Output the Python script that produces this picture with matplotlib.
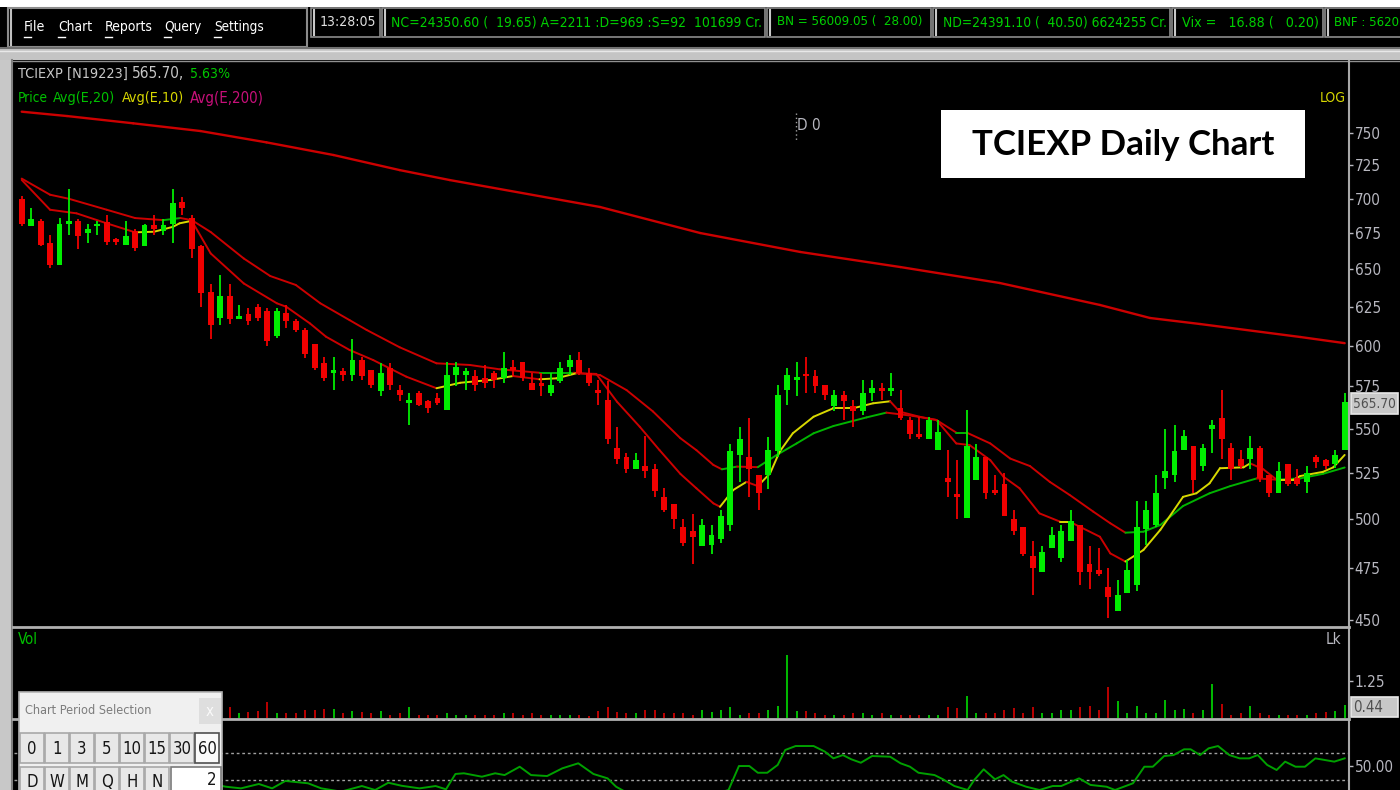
import matplotlib
matplotlib.use('Agg')
import matplotlib.pyplot as plt
from matplotlib import font_manager
from matplotlib.collections import LineCollection
from matplotlib.patches import Rectangle
from matplotlib.ticker import NullLocator
import numpy as np

# ---------------- data ----------------
opens = [700, 680, 684, 668, 653, 682, 684, 675, 680, 683, 671, 667, 677, 666, 681, 677, 682, 698, 686, 666,
         635, 618, 632, 617, 620, 625, 622, 606, 621, 616, 610, 601, 589, 583, 584, 582, 591, 585, 572, 586,
         573, 565, 571, 566, 568, 561, 582, 582, 581, 580, 583, 580, 587, 590, 577, 577, 571, 578, 587, 591,
         583, 572, 567, 539, 534, 527, 529, 527, 512, 508, 496, 494, 486, 487, 490, 497, 535, 534, 524, 524,
         537, 573, 579, 582, 581, 576, 563, 570, 563, 560, 571, 573, 572, 562, 555, 547, 544, 538, 522, 513,
         501, 521, 534, 515, 519, 500, 496, 481, 473, 485, 480, 489, 497, 477, 474, 466, 454, 463, 467, 495,
         497, 522, 524, 538, 540, 529, 550, 556, 539, 533, 533, 539, 524, 514, 530, 522, 520, 534, 532, 530,
         538]
highs = [702, 693, 685, 674, 686, 707, 685, 682, 684, 688, 672, 684, 678, 682, 688, 685, 707, 701, 688, 667,
         640, 646, 640, 626, 624, 627, 624, 624, 626, 617, 611, 601, 593, 593, 586, 604, 593, 585, 589, 589,
         576, 571, 572, 567, 571, 590, 590, 586, 585, 588, 584, 596, 591, 590, 583, 583, 583, 590, 594, 596,
         586, 579, 578, 551, 536, 536, 546, 530, 517, 508, 500, 503, 500, 497, 505, 541, 551, 556, 524, 545,
         576, 586, 590, 593, 585, 576, 573, 572, 567, 579, 579, 577, 583, 573, 557, 557, 557, 555, 538, 532,
         561, 541, 534, 524, 525, 505, 496, 489, 486, 496, 497, 505, 497, 486, 485, 475, 469, 479, 510, 510,
         524, 550, 552, 549, 540, 541, 555, 573, 542, 538, 546, 540, 524, 531, 530, 527, 529, 535, 533, 538,
         571]
lows = [680, 680, 666, 651, 653, 674, 664, 668, 674, 667, 667, 667, 663, 666, 674, 674, 668, 688, 658, 625,
        604, 613, 614, 617, 613, 616, 600, 605, 611, 609, 592, 585, 578, 573, 578, 578, 579, 574, 569, 573,
        566, 552, 563, 559, 564, 561, 575, 573, 572, 574, 574, 577, 581, 578, 573, 569, 569, 577, 582, 582,
        575, 564, 541, 530, 525, 527, 522, 512, 504, 495, 486, 477, 486, 482, 488, 494, 520, 512, 505, 516,
        534, 564, 569, 571, 571, 567, 560, 555, 551, 558, 566, 567, 569, 555, 544, 544, 544, 538, 512, 500,
        501, 521, 511, 513, 502, 492, 481, 462, 473, 485, 478, 489, 467, 465, 471, 451, 454, 463, 464, 487,
        496, 516, 520, 538, 514, 526, 536, 533, 521, 527, 527, 520, 512, 514, 518, 518, 514, 528, 527, 528,
        538]
closes = [682, 685, 667, 653, 682, 684, 673, 678, 682, 669, 669, 673, 665, 681, 678, 681, 697, 693, 664, 634,
          613, 632, 617, 619, 616, 618, 603, 622, 616, 610, 595, 586, 580, 584, 582, 591, 581, 576, 583, 576,
          570, 567, 564, 562, 565, 582, 587, 584, 576, 577, 579, 586, 585, 580, 573, 575, 576, 586, 591, 583,
          577, 571, 544, 533, 527, 532, 526, 515, 505, 500, 488, 491, 497, 492, 502, 537, 544, 527, 514, 538,
          570, 582, 580, 581, 575, 570, 570, 566, 560, 571, 574, 572, 573, 556, 547, 545, 555, 548, 520, 512,
          540, 534, 514, 514, 502, 494, 482, 475, 483, 492, 494, 499, 473, 473, 472, 461, 462, 474, 496, 505,
          514, 526, 537, 546, 521, 539, 552, 544, 527, 529, 539, 522, 514, 526, 519, 519, 525, 531, 529, 535,
          565.7]

# volume in lakh shares (first 22 bars sit behind the dialog, rough guesses)
volume_lk = [0.30, 0.25, 0.20, 0.28, 0.35, 0.30, 0.22, 0.18, 0.15, 0.20, 0.15, 0.18, 0.20, 0.22, 0.15, 0.18,
             0.40, 0.25, 0.35, 0.55, 0.50, 0.30,
             0.38, 0.17, 0.19, 0.23, 0.53, 0.17, 0.17, 0.17, 0.28, 0.26, 0.31, 0.31, 0.17, 0.23, 0.19, 0.17,
             0.23, 0.11, 0.17, 0.38, 0.11, 0.11, 0.11, 0.17, 0.11, 0.11, 0.11, 0.11, 0.11, 0.17, 0.17, 0.11,
             0.17, 0.11, 0.11, 0.11, 0.11, 0.11, 0.06, 0.23, 0.38, 0.19, 0.17, 0.17, 0.28, 0.28, 0.17, 0.17,
             0.17, 0.11,
             0.28, 0.20, 0.28, 0.38, 0.11, 0.17, 0.17, 0.28, 0.42, 2.16, 0.23, 0.23, 0.17, 0.11, 0.11, 0.11,
             0.17, 0.17, 0.11, 0.17, 0.11, 0.11, 0.11, 0.11, 0.11, 0.11, 0.38, 0.34, 0.74, 0.17, 0.17, 0.17,
             0.28, 0.34, 0.17, 0.38, 0.17, 0.17, 0.28, 0.28, 0.38, 0.42, 0.28, 1.06, 0.59, 0.17, 0.42, 0.17,
             0.17, 0.63, 0.28, 0.31, 0.17, 0.28, 1.16, 0.49, 0.11, 0.17, 0.42, 0.17, 0.11, 0.11, 0.11, 0.11,
             0.11, 0.17, 0.20, 0.23, 0.44]

ema20_idx = [0, 3, 5, 9, 12, 15, 16.8, 18, 20, 23.5, 26.3, 29, 31.6, 34.7, 36.5, 40, 43.9, 47.4, 50.6, 54.8,
             58.4, 61.2, 64, 66.8, 69.7, 71.4, 73.2, 74.1, 75.7, 77.9, 79.9, 82, 83.8, 85.9, 89.4, 91.5, 94.3,
             96.8, 98.9, 100, 102.5, 104.6, 106.7, 108.8, 110.9, 113.4, 115.2, 116.8, 118.7, 120.5, 122.9,
             125.7, 127.9, 130.7, 132.8, 135.3, 137.7, 140]
ema20_val = [715, 703, 700, 692, 686, 684.5, 686, 684.5, 676, 657.5, 645.5, 639.5, 627.3, 616.3, 610, 599, 589,
             588, 585.3, 583.2, 583.2, 581.8, 572.7, 560, 544.5, 537.7, 529.4, 527, 528.5, 528.2, 535, 541.5,
             547.3, 551.5, 556.5, 559.3, 557.4, 555, 547.7, 547.7, 541.5, 533, 528.8, 520.1, 513, 504.1, 498,
             493.1, 493.6, 497.1, 507.1, 513.9, 517.8, 522, 521.3, 522, 524.5, 528]

ema10_idx = [0, 3, 5.8, 9, 12, 14, 16, 16.7, 18, 20, 23.5, 27, 28, 30.5, 32.2, 34.7, 37.2, 40.7, 43.9, 46.4,
             49.6, 52, 54.8, 56.6, 58.7, 60.8, 63, 65.4, 67.5, 69.7, 71.4, 73.2, 73.9, 75.3, 76.7, 77.9, 79.2,
             80.2, 81.6, 83.8, 85.9, 88, 90.1, 91.9, 92.9, 95, 96.8, 98.9, 100.3, 102.5, 103.9, 105.6, 107.7,
             109.9, 110.9, 114.1, 115.2, 116.8, 118.7, 120.5, 122.9, 124.3, 125.7, 126.8, 129.3, 130, 131.4,
             132.8, 134.6, 135.3, 137.7, 138.8, 140]
ema10_val = [714, 692, 689.4, 682.2, 675.8, 676.2, 679.7, 682.2, 684, 661, 640.5, 627.3, 625, 614.2, 605.7,
             597.3, 591, 580.8, 573.8, 577.1, 578.8, 581.2, 579.2, 579.8, 582.9, 582.5, 565.7, 551.1, 537.7,
             524.5, 516.6, 508.5, 506.7, 515.7, 520.1, 517.8, 524.8, 536.8, 547.3, 556.9, 561.9, 561.9, 564.8,
             566, 559.9, 556.9, 555, 541.5, 540.6, 532.1, 522.9, 516.6, 503.2, 498.8, 498.8, 491, 482.5, 478.4,
             484.2, 494.6, 512, 513.9, 519.3, 527.6, 528.1, 530.3, 527, 521.3, 521.3, 523.3, 525.6, 528.1, 535]

ema200_idx = [0, 4.8, 11.8, 18.9, 25.9, 33, 40, 45.3, 61.2, 71.8, 82.4, 93, 103.5, 114.1, 119.4, 124.7, 135.3,
              140]
ema200_val = [767, 763.5, 757.7, 751.6, 742.7, 732.9, 721.4, 713.9, 694, 675.3, 662, 651.6, 640.8, 626.2, 617.7,
              613.8, 605.5, 601.6]

rsi_idx = [0, 8, 15, 21.6, 23.2, 25.1, 26.5, 27.9, 30.3, 31.7, 33.8, 36, 37.4, 38.8, 40.2, 42.1, 43.8, 44.9,
           45.9, 46.8, 48.7, 50.1, 51.1, 52.7, 53.9, 55.6, 57.2, 58.9, 60.5, 62, 62.9, 64.5, 66.5, 68.5, 70.5,
           72.5, 74.8, 75.9, 77, 77.9, 78.9, 80, 80.8, 81.9, 83.8, 85, 85.9, 86.9, 87.8, 88.8, 90, 91.9, 93, 94,
           94.9, 96.6, 97.5, 98.7, 100.1, 100.8, 101.8, 103, 103.9, 104.8, 106.3, 107.7, 109.1, 110, 111.9,
           113.1, 114.8, 115.7, 117.6, 118.8, 119.7, 120.9, 121.9, 123, 123.7, 124.7, 125.6, 126.6, 127.8,
           128.9, 129.9, 130.8, 131.8, 132.8, 133.7, 134.8, 135.8, 136.9, 137.9, 138.9, 140]
rsi_val = [46, 42, 44, 35.1, 33.9, 37.1, 33.9, 39.3, 37.6, 33.9, 31.5, 35.6, 32.7, 38, 35.8, 33.9, 35.6, 33.2,
           44.4, 44.9, 42.4, 44.9, 43.6, 49.7, 43.6, 42.9, 48.5, 52.2, 44.4, 41.2, 35.1, 29, 25, 23, 24, 28, 32.7,
           50.2, 50.2, 45.3, 45.3, 51, 61.9, 64.8, 64.8, 60.7, 55.8, 58.2, 55.1, 52.6, 57.5, 57, 52.2, 49.7,
           45.3, 43.6, 40.5, 35.6, 32.7, 40, 47.8, 40.5, 43.6, 38.8, 35.1, 32.7, 35.6, 35.6, 41.2, 36.4, 35.1,
           32.7, 37.6, 49.7, 49.7, 57.5, 58.2, 62.4, 62.4, 58.2, 63.1, 64.8, 58.2, 55.8, 55.8, 58.2, 51, 47.3,
           53.4, 49.7, 49.7, 55.8, 54.6, 53.4, 55.8]

price_ticks = [450, 475, 500, 525, 550, 575, 600, 625, 650, 675, 700, 725, 750]
last_price = '565.70'
last_vol = '0.44'

# ---------------- fonts ----------------
entries = font_manager.fontManager.ttflist
names = {f.name for f in entries}
if 'Liberation Sans Narrow' in names:
    NARROW, STRETCH = 'Liberation Sans Narrow', 'normal'
else:
    NARROW = 'DejaVu Sans'
    has_cond = any(f.name == 'DejaVu Sans' and str(f.stretch) in ('condensed', 'semi-condensed', '300', '400')
                   for f in entries)
    STRETCH = 'condensed' if has_cond else 'normal'
BOLD = 'Lato' if 'Lato' in names else 'DejaVu Sans'

GREEN = '#00ee00'
RED = '#f00000'
DRED = '#cc0000'
AXGRAY = '#b8b8c0'
TICK_SIZE = 11
CAP_SIZE = 11

W, H = 1400, 790
fig = plt.figure(figsize=(W / 100, H / 100), dpi=100, facecolor='black')
renderer = fig.canvas.get_renderer()


def box(x0, y0, x1, y1):
    return [x0 / W, 1 - y1 / H, (x1 - x0) / W, (y1 - y0) / H]


ax_p = fig.add_axes(box(14, 61, 1349, 626))
ax_v = fig.add_axes(box(14, 628, 1349, 718))
ax_r = fig.add_axes(box(14, 720, 1349, 790))

idx = np.arange(len(closes))
o, h, l, c = map(np.asarray, (opens, highs, lows, closes))
colors = np.where(c >= o, GREEN, RED)

for a in (ax_p, ax_v, ax_r):
    a.set_facecolor('black')
    a.set_xlim(-0.815, 140.46)
    for s in a.spines.values():
        s.set_visible(False)
    a.set_xticks([])
    a.yaxis.tick_right()
    a.tick_params(axis='y', colors=AXGRAY, length=3, width=1, pad=1, direction='out')

# price panel
ax_p.set_yscale('log')
ax_p.set_ylim(447.1, 808.9)
ax_p.yaxis.set_minor_locator(NullLocator())
ax_p.set_yticks(price_ticks)
ax_p.set_yticklabels([str(p) for p in price_ticks])

ax_p.vlines(idx, l, h, colors=colors, lw=1.3, zorder=3)
bot = np.minimum(o, c)
top = np.maximum(np.maximum(o, c), bot * 1.003)
ax_p.bar(idx, top - bot, bottom=bot, width=0.62, color=colors, lw=0, zorder=4)


def ema_line(ax, xs, ys, up_col, down_col, lw):
    xs, ys = np.asarray(xs, float), np.asarray(ys, float)
    pts = np.column_stack([xs, ys])
    segs = np.stack([pts[:-1], pts[1:]], axis=1)
    cols = [up_col if b >= a else down_col for a, b in zip(ys[:-1], ys[1:])]
    ax.add_collection(LineCollection(segs, colors=cols, linewidths=lw, zorder=2, capstyle='round'))


ema_line(ax_p, ema200_idx, ema200_val, DRED, DRED, 1.7)
ema_line(ax_p, ema20_idx, ema20_val, '#00b400', DRED, 1.4)
ema_line(ax_p, ema10_idx, ema10_val, '#d8d800', DRED, 1.4)

# volume panel
ax_v.vlines(idx, 0, volume_lk, colors=colors, lw=1.1)
ax_v.set_ylim(0, 3.07)
ax_v.set_yticks([1.25])
ax_v.set_yticklabels(['1.25'])

# oscillator panel
ax_r.set_ylim(32.7, 83.8)
for lev in (40, 60):
    ax_r.axhline(lev, color='#a0a0a0', lw=1, ls=(0, (2, 2)))
ax_r.plot(rsi_idx, rsi_val, color='#00a000', lw=1.4)
ax_r.set_yticks([50])
ax_r.set_yticklabels(['50.00'])

for a in (ax_p, ax_v, ax_r):
    for t in a.get_yticklabels():
        t.set_fontfamily(NARROW)
        t.set_fontstretch(STRETCH)
        t.set_fontsize(TICK_SIZE)

# ---------------- window chrome (pixel overlay) ----------------
ov = fig.add_axes([0, 0, 1, 1])
ov.set_xlim(0, W)
ov.set_ylim(H, 0)
ov.axis('off')


def rect(x0, y0, x1, y1, fc, ec='none', lw=1, z=1):
    ov.add_patch(Rectangle((x0, y0), x1 - x0, y1 - y0, fc=fc, ec=ec, lw=lw, zorder=z))


def put(x, y, s, col, width, size=11, fam=None, stretch=None, grow=False, **kw):
    # place a text and shrink (or grow) it to the width it has in the screenshot
    kw.setdefault('va', 'center')
    t = ov.text(x, y, s, color=col, fontsize=size, family=fam or NARROW,
                fontstretch=stretch or STRETCH, **kw)
    wnow = t.get_window_extent(renderer).width
    if wnow > 0 and (wnow > width or grow):
        t.set_fontsize(size * width / wnow)
    return t


rect(0, 0, W, 7, 'white')
rect(0, 47, W, 60, '#c4c4c4')
ov.plot([0, W], [48, 48], color='#707070', lw=1.5)
ov.plot([0, W], [51, 51], color='#e8e8e8', lw=1)
rect(0, 60, 13, H, '#c8c8c8')
ov.plot([12, 12], [60, H], color='#808080', lw=1.5)
ov.plot([13, W], [60.5, 60.5], color='#909090', lw=1)

# menu
rect(8, 8, 307, 47, 'black', '#8c8c8c', 1.5)
ov.plot([11, 11], [10, 45], color='#c0c0c0', lw=1.5)
for word, x0, x1 in [('File', 24, 45), ('Chart', 58, 92), ('Reports', 105, 153), ('Query', 164, 201),
                     ('Settings', 214, 264)]:
    put(x0, 27, word, 'white', x1 - x0, 13, grow=True)
    ov.plot([x0, x0 + 7], [37, 37], color='white', lw=1)

# ticker strip
tickers = [(311, 380, 320, 376, '13:28:05', '#e0e0e0'),
           (382, 765, 391, 760, 'NC=24350.60 (  19.65) A=2211 :D=969 :S=92  101699 Cr.', '#00d000'),
           (767, 931, 777, 923, 'BN = 56009.05 (  28.00)', '#00d000'),
           (933, 1170, 943, 1166, 'ND=24391.10 (  40.50) 6624255 Cr.', '#00d000'),
           (1172, 1323, 1182, 1318, 'Vix =   16.88 (   0.20)', '#00d000'),
           (1325, 1405, 1334, 1399, 'BNF : 5620', '#00d000')]
for x0, x1, t0, t1, s, col in tickers:
    rect(x0, 8, x1, 37, 'black', '#8c8c8c', 1.2)
    ov.plot([x0 + 3, x0 + 3], [10, 35], color='#c8c8c8', lw=1.5)
    put(t0, 22, s, col, t1 - t0, 13, grow=True)

# right axis line and separators
ov.plot([1349, 1349], [61, H], color='#a8a8a8', lw=1.5)
ov.plot([13, 1349], [627, 627], color='#b0b0b0', lw=2)
ov.plot([13, 1349], [719, 719], color='#b0b0b0', lw=2)

# value boxes
rect(1351, 393, 1398, 414, '#c8c8c8', '#e8e8e8', 1.2)
put(1353, 403.5, last_price, '#505050', 43, TICK_SIZE + 0.5)
rect(1351, 697, 1398, 717, '#c8c8c8', '#e8e8e8', 1.2)
put(1353, 707, last_vol, '#505050', 30, TICK_SIZE + 0.5)

# panel captions
put(18, 74, 'TCIEXP [N19223]', '#c8c8c8', 110, CAP_SIZE)
put(132, 74, '565.70,', '#c8c8c8', 52, CAP_SIZE)
put(190, 74, '5.63%', '#00c800', 40, CAP_SIZE)
put(18, 98, 'Price', '#00c000', 30, CAP_SIZE)
put(53, 98, 'Avg(E,20)', '#00c000', 62, CAP_SIZE)
put(122, 98, 'Avg(E,10)', '#d8d800', 62, CAP_SIZE)
put(190, 98, 'Avg(E,200)', '#c8107a', 74, CAP_SIZE)
put(1320, 98, 'LOG', '#d8d800', 26, CAP_SIZE)
put(18, 640, 'Vol', '#00c000', 20, CAP_SIZE)
put(1326, 640, 'Lk', AXGRAY, 16, CAP_SIZE)
ov.plot([796, 796], [113, 142], color='#a0a0a0', lw=1, ls=(0, (1, 2)))
put(797, 126, 'D 0', AXGRAY, 24, CAP_SIZE)

# title box
rect(941, 110, 1305, 178, 'white')
put(972, 145, 'TCIEXP Daily Chart', 'black', 303, 24, fam=BOLD, stretch='normal', grow=True,
    fontweight='bold')

# chart period selection dialog
rect(19, 692, 222, 800, '#f0f0f0', '#b4b4b4', 1.2, z=5)
put(25, 711, 'Chart Period Selection', '#7c7c7c', 127, 12, grow=True, zorder=6)
rect(199, 698, 221, 724, '#dedede', z=6)
put(206, 711, 'x', '#fafafa', 8, 11, zorder=7)
row1 = ['0', '1', '3', '5', '10', '15', '30', '60']
row2 = ['D', 'W', 'M', 'Q', 'H', 'N']
for k, lab in enumerate(row1):
    x0 = 20 + 25 * k
    pressed = lab == '60'
    rect(x0, 733, x0 + 24, 763, '#fafafa' if pressed else '#e8e8e8',
         '#505050' if pressed else '#a8a8a8', 1.2, z=6)
    put(x0 + 12, 749, lab, '#151515', 20, 12, ha='center', zorder=7)
for k, lab in enumerate(row2):
    x0 = 20 + 25 * k
    rect(x0, 767, x0 + 24, 800, '#e8e8e8', '#a8a8a8', 1.2, z=6)
    put(x0 + 12, 782, lab, '#151515', 20, 12, ha='center', zorder=7)
rect(171, 767, 221, 800, 'white', '#7a7a7a', 1.2, z=6)
put(216, 780, '2', '#151515', 10, 12, ha='right', zorder=7)

fig.savefig('out.png', dpi=100, facecolor='black')
